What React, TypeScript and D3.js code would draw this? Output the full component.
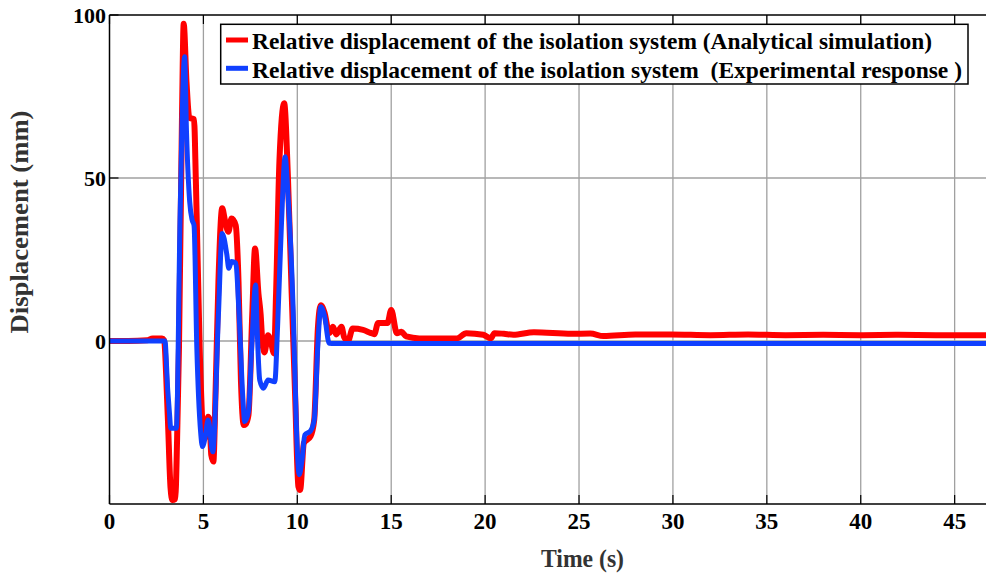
import React from 'react';
import * as d3 from 'd3';

// analytical simulation (red)
const redT = [0, 1, 2, 2.3, 2.8, 2.9, 3.1, 3.25, 3.35, 3.5, 3.6, 3.7, 3.86, 3.95, 4.1, 4.25, 4.5, 4.6, 4.8, 4.98,
  5.08, 5.25, 5.32, 5.42, 5.53, 5.65, 5.8, 6.0, 6.15, 6.33, 6.5, 6.72, 6.87, 7.0, 7.15, 7.25, 7.4, 7.6, 7.75,
  7.93, 8.05, 8.12, 8.25, 8.44, 8.6, 8.76, 8.87, 9.05, 9.3, 9.5, 9.7, 9.88, 10.06, 10.15, 10.35, 10.7, 10.9,
  11.1, 11.25, 11.45, 11.7, 11.9, 12.07, 12.35, 12.5, 12.7, 12.95, 13.5, 13.9, 14.1, 14.3, 14.8, 15.0, 15.3,
  15.55, 15.8, 16.5, 18.5, 19.0, 19.9, 20.3, 20.5, 21, 21.5, 22.6, 24.6, 25.6, 26.3, 28, 29.9, 32, 34, 36, 38,
  40, 42, 44, 46.7];
const redV = [0, 0, 0.2, 0.8, 0.8, 0.3, -22.7, -45, -48.8, -48.5, -30, -2, 69, 97.3, 79.5, 68.5, 68, 48.8, -2, -27.8,
  -29.7, -23.2, -24, -35, -37, -15, 18.2, 40.7, 37, 33.5, 37.6, 35.5, 18.2, -12.5, -25.8, -25.5, -22.7, 8, 28.4,
  14.6, 8, 1.3, -3.5, 1.8, -0.5, -3.8, 14.7, 55.5, 72.9, 50.4, 14.6, -16, -44.7, -45.7, -31.3, -29.3, -24.2,
  4.4, 11, 8.7, 2.4, 4.4, 2, 4.4, 1.1, 0, 3.8, 3.4, 2.5, 2.1, 5.5, 5.5, 9.5, 2.4,
  2.8, 1.4, 0.8, 0.8, 2.4, 1.9, 0.8, 2.4, 2.2, 1.9, 2.7, 2.2, 2.3, 1.5, 2.0, 2.0, 1.8, 2.0, 1.8, 1.9,
  1.8, 1.9, 1.8, 1.8];

// experimental response (blue)
const blueT = [0, 2.95, 3.1, 3.2, 3.26, 3.56, 3.76, 4.0, 4.1, 4.27, 4.4, 4.5, 4.65, 4.85, 4.95, 5.1, 5.25, 5.5,
  5.8, 6.0, 6.25, 6.35, 6.5, 6.72, 6.9, 7.1, 7.2, 7.4, 7.57, 7.78, 7.86, 8.0, 8.2, 8.44, 8.8, 8.95, 9.15, 9.35,
  9.5, 9.78, 9.95, 10.1, 10.25, 10.4, 10.7, 10.9, 11.1, 11.25, 11.45, 11.7, 12, 46.7];
const blueV = [0, 0, -15, -22.7, -26.8, -26.8, 38.6, 87.2, 64.2, 42.7, 37.1, 35.5, -2.2, -27.8, -32.4, -29.3, -24.2, -34,
  8, 33, 26.4, 22.3, 24.4, 24, 8, -17.5, -24.7, -21.7, -2.2, 17.2, 4, -12, -14.5, -12, -12.5, 4.4, 35, 56.5,
  45.3, 9.5, -26.3, -41, -36.5, -28.8, -27.6, -24.2, -0.6, 10.5, 7.6, -0.7, -0.8, -0.8];

const xTicks = [0, 5, 10, 15, 20, 25, 30, 35, 40, 45];
const yTicks = [0, 50, 100];
const yGrid = [0, 50];

const legendLabels = [
  'Relative displacement of the isolation system (Analytical simulation)',
  'Relative displacement of the isolation system  (Experimental response )',
];
const seriesColors = ['#ff0000', '#1040ff'];

const W = 986;
const H = 573;
const left = 109.5;
const right = 986;
const top = 15;
const bottom = 504;
const font = '"Liberation Serif", "Times New Roman", serif';

export default function App() {
  const x = d3.scaleLinear().domain([0, 46.67]).range([left, right]);
  const y = d3.scaleLinear().domain([-50, 100]).range([bottom, top]);

  const line = d3.line<[number, number]>()
    .x(d => x(d[0]))
    .y(d => y(d[1]))
    .curve(d3.curveMonotoneX);

  const red = redT.map((t, i) => [t, redV[i]] as [number, number]);
  const blue = blueT.map((t, i) => [t, blueV[i]] as [number, number]);

  return (
    <svg width={W} height={H} style={{ position: 'fixed', left: 0, top: 0, background: '#fff' }}
      fontFamily={font} fontWeight="bold">
      <defs>
        <clipPath id="plot">
          <rect x={left} y={top} width={right - left} height={bottom - top} />
        </clipPath>
      </defs>

      {/* grid */}
      {xTicks.filter(t => t > 0).map(t => (
        <line key={'gx' + t} x1={x(t)} x2={x(t)} y1={top} y2={bottom} stroke="#a0a0a0" strokeWidth={1.3} />
      ))}
      {yGrid.map(v => (
        <line key={'gy' + v} x1={left} x2={right} y1={y(v)} y2={y(v)} stroke="#a0a0a0" strokeWidth={1.3} />
      ))}

      {/* ticks */}
      {xTicks.map(t => (
        <g key={'tx' + t}>
          <line x1={x(t)} x2={x(t)} y1={bottom} y2={bottom - 9} stroke="#000" strokeWidth={1.2} />
          <line x1={x(t)} x2={x(t)} y1={top} y2={top + 9} stroke="#000" strokeWidth={1.2} />
          <text x={x(t)} y={529} textAnchor="middle" fontSize={23} fill="#000">{t}</text>
        </g>
      ))}
      {yTicks.map(v => (
        <g key={'ty' + v}>
          <line x1={left} x2={left + 9} y1={y(v)} y2={y(v)} stroke="#000" strokeWidth={1.2} />
          <text x={106} y={y(v) + 7.5} textAnchor="end" fontSize={22} fill="#000">{v}</text>
        </g>
      ))}

      {/* data */}
      <g clipPath="url(#plot)">
        <path d={line(red) ?? ''} fill="none" stroke={seriesColors[0]} strokeWidth={6} strokeLinejoin="round" />
        <path d={line(blue) ?? ''} fill="none" stroke={seriesColors[1]} strokeWidth={5} strokeLinejoin="round" />
      </g>

      {/* axes */}
      <line x1={left} x2={left} y1={top} y2={bottom} stroke="#000" strokeWidth={1.5} />
      <line x1={left} x2={right} y1={bottom} y2={bottom} stroke="#000" strokeWidth={1.5} />
      <line x1={left} x2={right} y1={top} y2={top} stroke="#000" strokeWidth={1.5} />

      {/* legend */}
      <rect x={220.7} y={24.3} width={747.3} height={59.7} fill="#fff" stroke="#000" strokeWidth={1.5} />
      {legendLabels.map((lab, i) => (
        <g key={lab}>
          <line x1={226} x2={248} y1={40 + i * 28.3} y2={40 + i * 28.3} stroke={seriesColors[i]} strokeWidth={5} />
          <text x={252} y={49.3 + i * 29} fontSize={24} fill="#000" style={{ whiteSpace: 'pre' }}
            textLength={i === 0 ? 680 : 710} lengthAdjust="spacingAndGlyphs">{lab}</text>
        </g>
      ))}

      {/* axis labels */}
      <text x={582.5} y={567} textAnchor="middle" fontSize={25} fill="#333"
        textLength={83} lengthAdjust="spacingAndGlyphs">Time (s)</text>
      <text transform="translate(28,222) rotate(-90)" textAnchor="middle" fontSize={25} fill="#333"
        textLength={223} lengthAdjust="spacingAndGlyphs">Displacement (mm)</text>
    </svg>
  );
}
